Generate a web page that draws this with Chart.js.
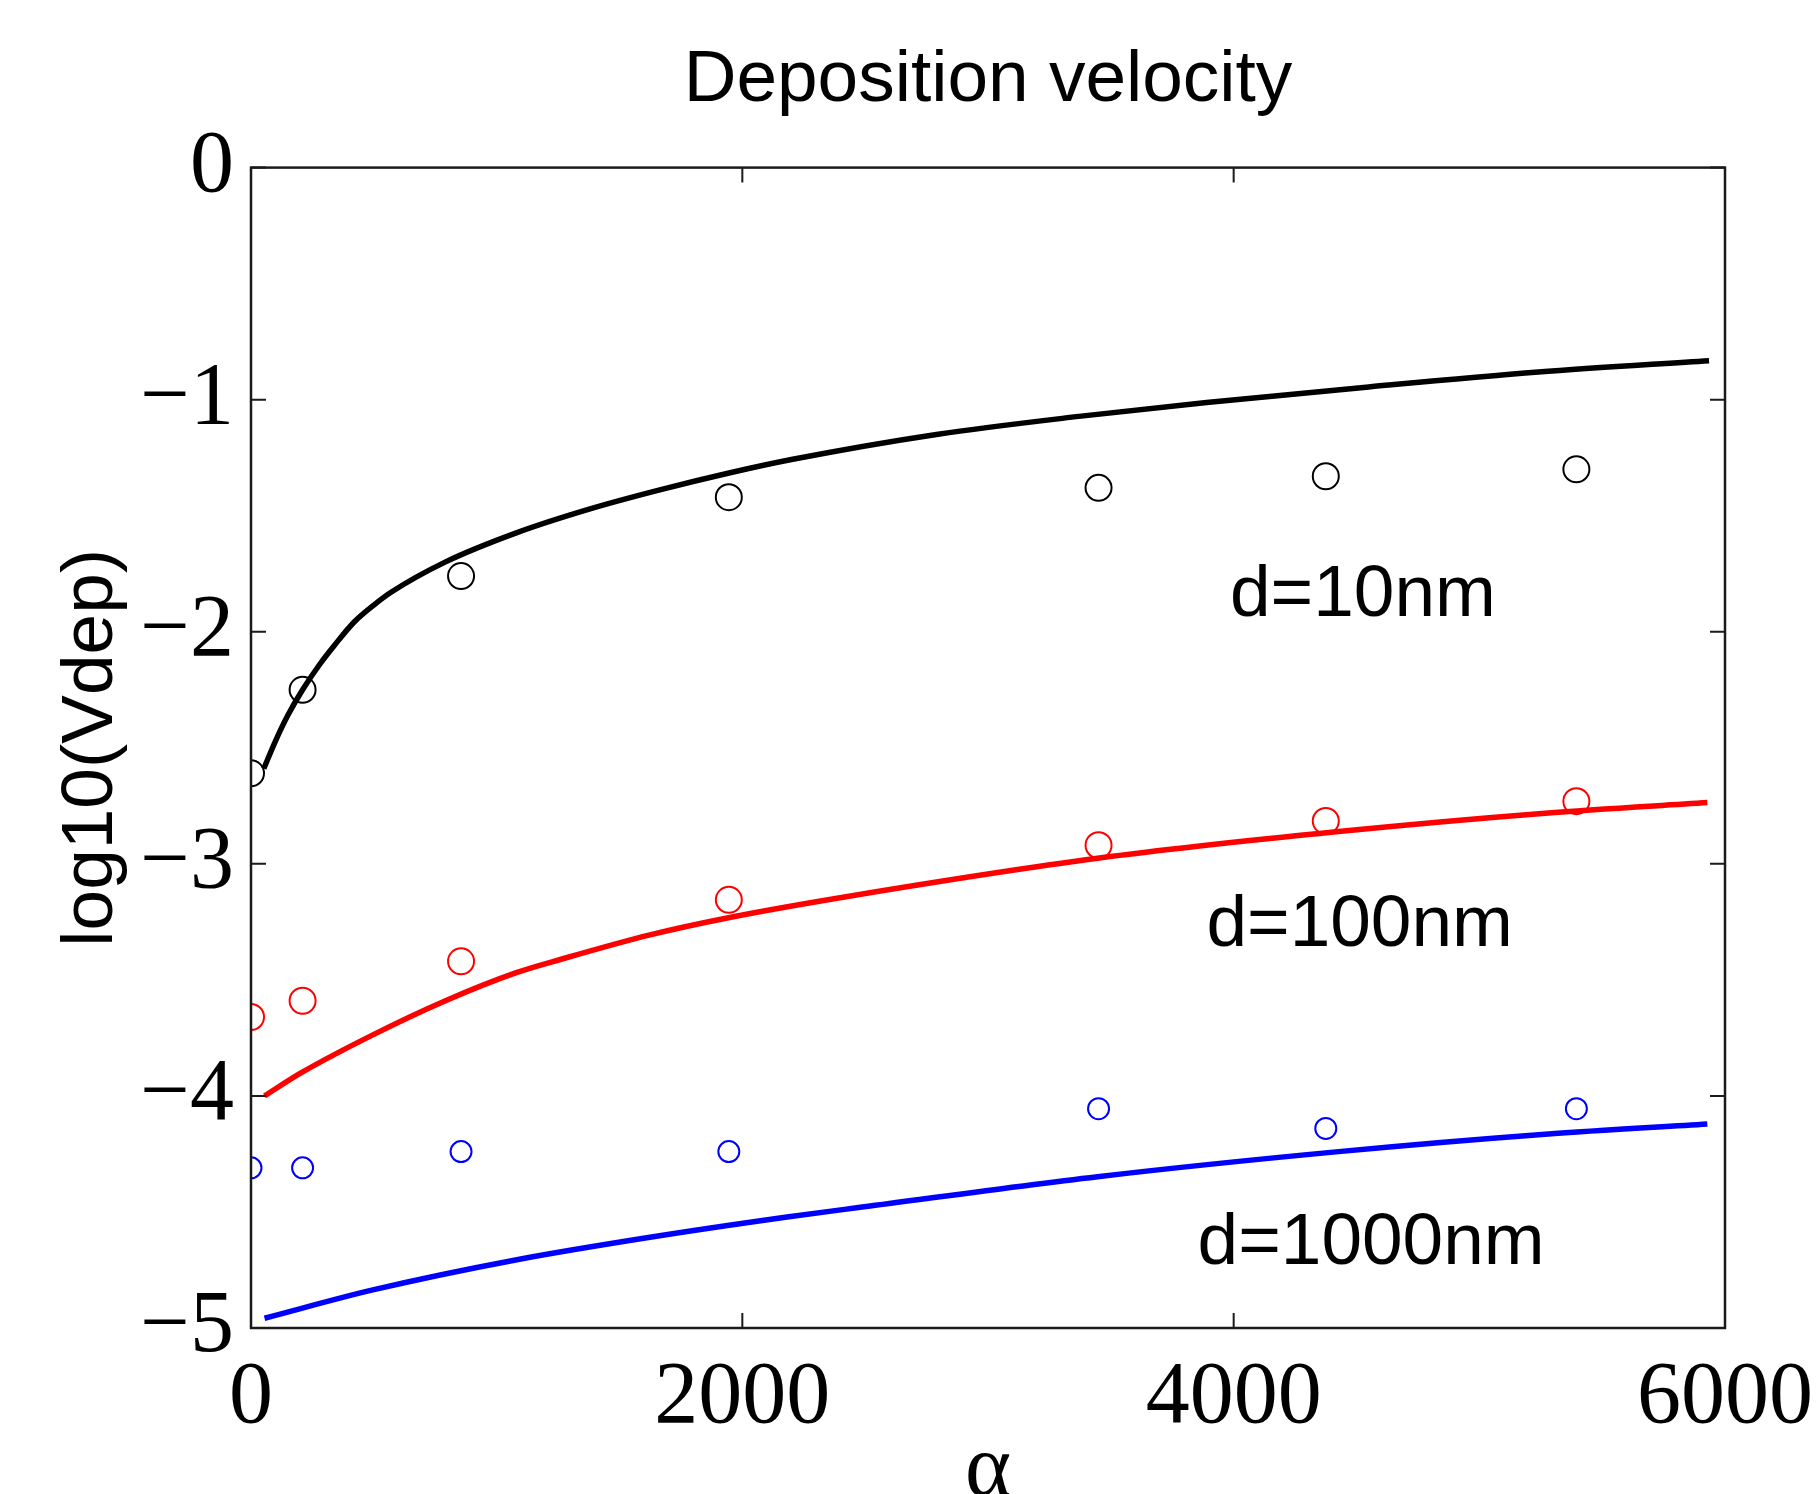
<!DOCTYPE html>
<html>
<head>
<meta charset="utf-8">
<title>Deposition velocity</title>
<script src="https://cdn.jsdelivr.net/npm/chart.js@4"></script>
<style>
  html, body { margin: 0; padding: 0; background: #fff; }
  canvas { display: block; }
</style>
</head>
<body>
<canvas id="vdepchart" width="1818" height="1494"></canvas>
<script>
// measured points (circles), same alpha for all three sizes
const alphaMeasured = [0, 210, 855, 1945, 3450, 4375, 5395];
const measured10 = [-2.61, -2.25, -1.76, -1.42, -1.38, -1.33, -1.30];
const measured100 = [-3.66, -3.59, -3.42, -3.155, -2.92, -2.815, -2.73];
const measured1000 = [-4.31, -4.31, -4.24, -4.24, -4.055, -4.14, -4.055];

// model curves (solid lines)
const alphaModel10 = [52, 100, 150, 210, 280, 340, 420, 500, 570, 790, 1080, 1370, 1660, 1950, 2200, 2790, 3370, 3890, 4550, 5240, 5935];
const model10 = [-2.59, -2.47, -2.36, -2.25, -2.14, -2.058, -1.958, -1.885, -1.83, -1.70, -1.574, -1.474, -1.39, -1.315, -1.258, -1.15, -1.072, -1.012, -0.945, -0.881, -0.832];
const alphaModel100 = [55, 205, 496, 787, 1077, 1266, 1624, 1943, 2465, 3446, 4427, 5268, 5928];
const model100 = [-4.00, -3.90, -3.737, -3.592, -3.47, -3.41, -3.306, -3.232, -3.134, -2.976, -2.861, -2.782, -2.736];
const alphaModel1000 = [55, 496, 1077, 1650, 2182, 2465, 3446, 4427, 5268, 5928];
const model1000 = [-4.958, -4.836, -4.707, -4.605, -4.522, -4.482, -4.348, -4.240, -4.165, -4.121];

// curve labels: text, alpha (left edge), log10 value (baseline)
const labelTexts = ['d=10nm', 'd=100nm', 'd=1000nm'];
const labelAlpha = [3985, 3889, 3853];
const labelLevel = [-1.931, -3.352, -4.724];

const xTicks = [0, 2000, 4000, 6000];
const yTicks = [0, -1, -2, -3, -4, -5];

function pts(xs, ys) {
  return xs.map((x, i) => ({ x: x, y: ys[i] }));
}

function curve(xs, ys, color) {
  return {
    data: pts(xs, ys),
    showLine: true,
    borderColor: color,
    backgroundColor: color,
    borderWidth: 5.5,
    pointRadius: 0,
    cubicInterpolationMode: 'monotone'
  };
}

function circles(xs, ys, color, r) {
  return {
    data: pts(xs, ys),
    showLine: false,
    borderColor: color,
    backgroundColor: 'rgba(0,0,0,0)',
    pointBorderWidth: 2,
    pointRadius: r,
    pointStyle: 'circle'
  };
}

// frame round the plot with inward ticks on all four sides
const framePlugin = {
  id: 'frame',
  afterDatasetsDraw(chart) {
    const { ctx, chartArea: a, scales } = chart;
    const len = 15;
    ctx.save();
    ctx.strokeStyle = '#1a1a1a';
    ctx.lineWidth = 2.5;
    ctx.strokeRect(a.left, a.top, a.right - a.left, a.bottom - a.top);
    ctx.lineWidth = 2;
    ctx.beginPath();
    xTicks.forEach(v => {
      const px = scales.x.getPixelForValue(v);
      ctx.moveTo(px, a.bottom); ctx.lineTo(px, a.bottom - len);
      ctx.moveTo(px, a.top); ctx.lineTo(px, a.top + len);
    });
    yTicks.forEach(v => {
      const py = scales.y.getPixelForValue(v);
      ctx.moveTo(a.left, py); ctx.lineTo(a.left + len, py);
      ctx.moveTo(a.right, py); ctx.lineTo(a.right - len, py);
    });
    ctx.stroke();

    // curve labels
    ctx.fillStyle = '#000';
    ctx.font = '73px "Liberation Sans", Arial, sans-serif';
    ctx.textAlign = 'left';
    ctx.textBaseline = 'alphabetic';
    labelTexts.forEach((t, i) => {
      ctx.fillText(t, scales.x.getPixelForValue(labelAlpha[i]), scales.y.getPixelForValue(labelLevel[i]));
    });
    ctx.restore();
  }
};

const data = {
  datasets: [
    curve(alphaModel10, model10, '#000000'),
    curve(alphaModel100, model100, '#ff0000'),
    curve(alphaModel1000, model1000, '#0000ff'),
    circles(alphaMeasured, measured10, '#000000', 13),
    circles(alphaMeasured, measured100, '#ff0000', 13),
    circles(alphaMeasured, measured1000, '#0000ff', 10.5)
  ]
};

const tickFont = { family: '"Liberation Serif", "Times New Roman", serif', size: 88 };
const minus = v => (v < 0 ? '\u2212' + Math.abs(v) : String(v));

const config = {
  type: 'scatter',
  data,
  options: {
    responsive: false,
    devicePixelRatio: 1,
    animation: false,
    layout: { padding: { left: 0, right: 93, top: 0, bottom: 0 } },
    scales: {
      x: {
        type: 'linear',
        min: 0,
        max: 6000,
        grid: { display: false, drawTicks: false },
        border: { display: false },
        ticks: {
          stepSize: 2000,
          maxRotation: 0,
          autoSkip: false,
          padding: 18,
          color: '#000',
          font: tickFont,
          callback: minus
        },
        title: {
          display: true,
          text: '\u03b1',
          color: '#000',
          font: { family: '"Liberation Serif", "Times New Roman", serif', size: 88, lineHeight: 1 },
          padding: { top: 0, bottom: -22 }
        },
        afterFit(s) {
          s.height = 166;
          s.paddingLeft = 0;
          s.paddingRight = 0;
        }
      },
      y: {
        type: 'linear',
        min: -5,
        max: 0,
        grid: { display: false, drawTicks: false },
        border: { display: false },
        ticks: {
          stepSize: 1,
          padding: 17,
          color: '#000',
          font: tickFont,
          callback: minus
        },
        title: {
          display: true,
          text: 'log10(Vdep)',
          color: '#000',
          font: { family: '"Liberation Sans", Arial, sans-serif', size: 73, lineHeight: 1 },
          padding: { top: 55, bottom: 0 }
        },
        afterFit(s) {
          s.width = 251;
          s.paddingTop = 0;
          s.paddingBottom = 0;
        }
      }
    },
    plugins: {
      legend: { display: false },
      tooltip: { enabled: false },
      title: {
        display: true,
        fullSize: false,
        text: 'Deposition velocity',
        color: '#000',
        font: { family: '"Liberation Sans", Arial, sans-serif', size: 73, weight: 'normal' },
        padding: { top: 37, bottom: 43 }
      }
    }
  },
  plugins: [framePlugin]
};

const vdepchart = new Chart(document.getElementById('vdepchart'), config);
</script>
</body>
</html>
